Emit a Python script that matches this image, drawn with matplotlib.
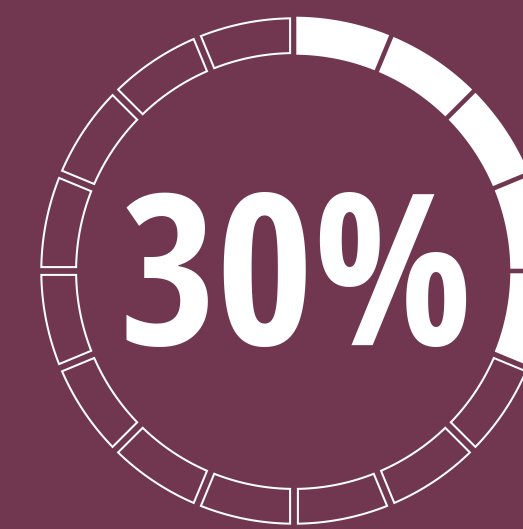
import numpy as np
import matplotlib
matplotlib.use("Agg")
import matplotlib.pyplot as plt
from matplotlib.patches import Polygon

# Progress value shown in the ring and as the big label
value = 30
n_segments = 16
label = f"{value}%"

BG = "#723750"
FG = "#ffffff"

W, H = 523, 529
fig = plt.figure(figsize=(W / 100, H / 100), dpi=100, facecolor=BG)
ax = fig.add_axes([0, 0, 1, 1])
ax.set_facecolor(BG)
ax.set_xlim(0, W)
ax.set_ylim(H, 0)
ax.axis("off")

cx, cy = 294.0, 271.0
r_out, r_in = 254.3, 216.3
half_gap = 2.3
inset = 1.6

n_filled = int(round(value / 100 * n_segments))
step = 2 * np.pi / n_segments


def segment(i, ro, ri, h):
    a0, a1 = i * step, (i + 1) * step
    do, di = np.arcsin(h / ro), np.arcsin(h / ri)
    t_out = np.linspace(a0 + do, a1 - do, 60)
    t_in = np.linspace(a1 - di, a0 + di, 60)
    xs = np.concatenate([cx + ro * np.sin(t_out), cx + ri * np.sin(t_in)])
    ys = np.concatenate([cy - ro * np.cos(t_out), cy - ri * np.cos(t_in)])
    return np.column_stack([xs, ys])


for i in range(n_segments):
    if i < n_filled:
        pts = segment(i, r_out, r_in, half_gap)
        ax.add_patch(Polygon(pts, closed=True, facecolor=FG, edgecolor="none"))
    else:
        pts = segment(i, r_out - inset, r_in + inset, half_gap + inset)
        ax.add_patch(Polygon(pts, closed=True, facecolor="none",
                             edgecolor=FG, linewidth=1.45, joinstyle="miter"))

ax.text(296, 345, label, ha="center", va="baseline", color=FG,
        fontsize=151, fontweight="bold",
        family=["Open Sans Condensed", "DejaVu Sans"])

fig.savefig("out.png", dpi=100, facecolor=BG)
